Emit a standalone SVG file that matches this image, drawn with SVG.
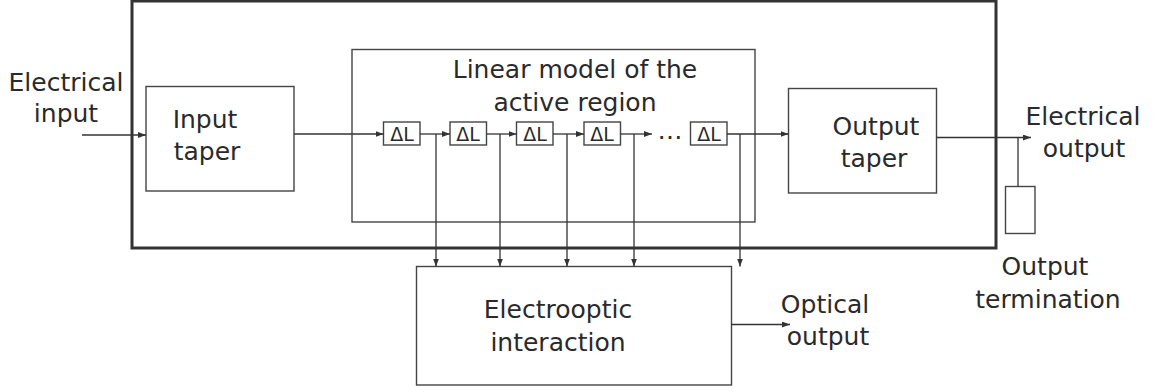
<svg xmlns="http://www.w3.org/2000/svg" width="1156" height="392" viewBox="0 0 1156 392">
<defs>
<marker id="ah" markerWidth="8" markerHeight="6" refX="8" refY="3" orient="auto" markerUnits="userSpaceOnUse">
<path d="M0,0 L8,3 L0,6 Z" fill="#333"/>
</marker>
<style>
.box{fill:none;stroke:#444;stroke-width:1.4}
.outer{fill:none;stroke:#333;stroke-width:3}
.ln{fill:none;stroke:#333;stroke-width:1.3}
.ar{fill:none;stroke:#333;stroke-width:1.3;marker-end:url(#ah)}
.t{font-family:"DejaVu Sans",sans-serif;font-size:25px;fill:#2a2a2a;text-anchor:middle}
.d{font-family:"DejaVu Sans",sans-serif;font-size:19px;fill:#2a2a2a;text-anchor:middle}
</style>
</defs>
<rect width="1156" height="392" fill="#fff"/>
<g id="outer-box"><rect class="outer" x="132" y="1" width="864" height="247"/></g>
<g id="electrical-input"><text class="t" x="66" y="91">Electrical</text><text class="t" x="66" y="122">input</text></g>
<g id="input-taper"><rect class="box" x="146" y="86.5" width="148" height="104.5"/><text class="t" x="205" y="128">Input</text><text class="t" x="207" y="160">taper</text></g>
<g id="linear-model"><rect class="box" x="352" y="49.5" width="403" height="172.5"/><text class="t" x="575" y="78">Linear model of the</text><text class="t" x="575" y="111">active region</text></g>
<g id="dl1"><rect class="box" x="383.5" y="122" width="36.5" height="23"/><text class="d" x="402" y="141">ΔL</text></g>
<g id="dl2"><rect class="box" x="450" y="122" width="36.5" height="23"/><text class="d" x="468" y="141">ΔL</text></g>
<g id="dl3"><rect class="box" x="516.5" y="122" width="36.5" height="23"/><text class="d" x="535" y="141">ΔL</text></g>
<g id="dl4"><rect class="box" x="584" y="122" width="36.5" height="23"/><text class="d" x="602" y="141">ΔL</text></g>
<g id="dots"><text class="t" x="670" y="139">…</text></g>
<g id="dl5"><rect class="box" x="690.5" y="122" width="36.5" height="23"/><text class="d" x="709" y="141">ΔL</text></g>
<g id="output-taper"><rect class="box" x="788.5" y="88.5" width="148" height="104.5"/><text class="t" x="876" y="135">Output</text><text class="t" x="874" y="167">taper</text></g>
<g id="electrical-output"><text class="t" x="1083" y="125">Electrical</text><text class="t" x="1084" y="157">output</text></g>
<g id="output-termination"><rect class="box" x="1005.5" y="186.5" width="29.5" height="47"/><text class="t" x="1045" y="275">Output</text><text class="t" x="1048" y="308">termination</text></g>
<g id="electrooptic"><rect class="box" x="416.5" y="266.5" width="315" height="118.5"/><text class="t" x="558" y="318">Electrooptic</text><text class="t" x="558" y="351">interaction</text></g>
<g id="optical-output"><text class="t" x="825" y="313">Optical</text><text class="t" x="828" y="345">output</text></g>
<g id="connectors">
<line class="ar" x1="82" y1="135" x2="146" y2="135"/>
<line class="ar" x1="294" y1="134" x2="383.5" y2="134"/>
<line class="ar" x1="420" y1="134" x2="450" y2="134"/>
<line class="ar" x1="486.5" y1="134" x2="516.5" y2="134"/>
<line class="ar" x1="553" y1="134" x2="584" y2="134"/>
<line class="ar" x1="620.5" y1="134" x2="652" y2="134"/>
<line class="ar" x1="727" y1="134" x2="788.5" y2="134"/>
<line class="ar" x1="436" y1="134" x2="436" y2="266.5"/>
<line class="ar" x1="500" y1="134" x2="500" y2="266.5"/>
<line class="ar" x1="567" y1="134" x2="567" y2="266.5"/>
<line class="ar" x1="634" y1="134" x2="634" y2="266.5"/>
<line class="ar" x1="740" y1="134" x2="740" y2="266.5"/>
<line class="ar" x1="936.5" y1="137.5" x2="1031" y2="137.5"/>
<line class="ln" x1="1018" y1="137.5" x2="1018" y2="186.5"/>
<line class="ar" x1="731.5" y1="324.5" x2="790" y2="324.5"/>
</g>
</svg>
